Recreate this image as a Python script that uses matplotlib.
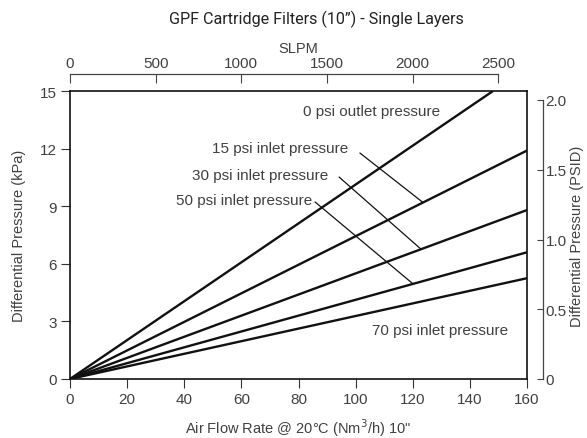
import matplotlib
matplotlib.use("Agg")
import matplotlib.pyplot as plt
import numpy as np

# ---- data ----
series_labels = ["0 psi outlet pressure", "15 psi inlet pressure", "30 psi inlet pressure",
                 "50 psi inlet pressure", "70 psi inlet pressure"]
flow_0psi = [0, 148.1]
dp_0psi = [0, 15.0]
flow_inlet = [0, 160]
dp_15psi = [0, 11.9]
dp_30psi = [0, 8.8]
dp_50psi = [0, 6.6]
dp_70psi = [0, 5.25]

x_ticks = [0, 20, 40, 60, 80, 100, 120, 140, 160]
y_ticks = [0, 3, 6, 9, 12, 15]
slpm_ticks = [0, 500, 1000, 1500, 2000, 2500]
psid_ticks = [0, 0.5, 1.0, 1.5, 2.0]
psid_labels = ["0", "0.5", "1.0", "1.5", "2.0"]
SLPM_PER_NM3H = 1000.0 / 60.0

TXT = "#404040"
FONT = ["Liberation Sans", "DejaVu Sans"]
plt.rcParams['font.family'] = FONT

fig = plt.figure(figsize=(5.87, 4.39), dpi=100)
ax = fig.add_axes([70 / 587, 1 - 380 / 439, 457 / 587, 288 / 439])

lw = 1.7
ax.plot(flow_0psi, dp_0psi, color="#111111", lw=lw, solid_capstyle="butt")
for dp in (dp_15psi, dp_30psi, dp_50psi, dp_70psi):
    ax.plot(flow_inlet, dp, color="#111111", lw=lw, solid_capstyle="butt")

ax.set_xlim(0, 160)
ax.set_ylim(0, 15)
ax.set_xticks(x_ticks)
ax.set_yticks(y_ticks)
for s in ax.spines.values():
    s.set_linewidth(1.2)
    s.set_color("#111111")
ax.tick_params(direction="out", length=6.5, width=0.8, color="#333333",
               labelsize=11, labelcolor=TXT, pad=3)
ax.set_xlabel("Air Flow Rate @ 20°C (Nm$^3$/h) 10\"", fontsize=10.5, color=TXT, labelpad=7.5)
ax.set_ylabel("Differential Pressure (kPa)", fontsize=10.5, color=TXT, labelpad=10)

# labels
fs = 11
ax.text(81.6, 13.96, series_labels[0], fontsize=fs, color=TXT, ha="left", va="center")
ax.text(97.3, 12.03, series_labels[1], fontsize=fs, color=TXT, ha="right", va="center")
ax.text(90.3, 10.62, series_labels[2], fontsize=fs, color=TXT, ha="right", va="center")
ax.text(84.7, 9.32, series_labels[3], fontsize=fs, color=TXT, ha="right", va="center")
ax.text(105.7, 2.55, series_labels[4], fontsize=fs, color=TXT, ha="left", va="center")

# leader lines
def on_line(dp, x):
    return np.interp(x, flow_inlet, dp)

leaders = [((101.5, 11.77), dp_15psi, 123.6),
           ((94.2, 10.52), dp_30psi, 122.9),
           ((85.8, 9.22), dp_50psi, 120.1)]
for start, dp, xe in leaders:
    ax.annotate("", xy=(xe, on_line(dp, xe)), xytext=start,
                arrowprops=dict(arrowstyle="-", color="#111111", lw=0.9,
                                shrinkA=0, shrinkB=0))

# top axis: SLPM
axt = ax.twiny()
axt.set_xlim(0, 160 * SLPM_PER_NM3H)
axt.set_xticks(slpm_ticks)
for k in ("left", "right", "bottom"):
    axt.spines[k].set_visible(False)
axt.spines["top"].set_position(("outward", 12))
axt.spines["top"].set_bounds(0, 2500)
axt.spines["top"].set_color("#444444")
axt.spines["top"].set_linewidth(0.9)
axt.tick_params(axis="x", direction="in", length=6.5, width=0.8, color="#444444",
                labelsize=11, labelcolor=TXT, pad=3)
axt.set_xlabel("SLPM", fontsize=10.5, color=TXT, labelpad=3)

# right axis: PSID
axr = ax.twinx()
axr.set_ylim(0, 2.0 * 288 / 279)
axr.set_yticks(psid_ticks)
axr.set_yticklabels(psid_labels)
for k in ("left", "top", "bottom"):
    axr.spines[k].set_visible(False)
axr.spines["right"].set_position(("outward", 11.5))
axr.spines["right"].set_bounds(0, 2.0)
axr.spines["right"].set_color("#444444")
axr.spines["right"].set_linewidth(0.9)
axr.tick_params(axis="y", direction="in", length=4, width=0.8, color="#444444",
                labelsize=11, labelcolor=TXT, pad=2)
axr.set_ylabel("Differential Pressure (PSID)", fontsize=10.5, color=TXT, labelpad=2)

fig.text(316 / 587, 1 - 19 / 439, "GPF Cartridge Filters (10\u201d) - Single Layers",
         fontsize=11.6, family=["Roboto", "DejaVu Sans"], color="#222222",
         ha="center", va="center")

fig.savefig("out.png", dpi=100)
